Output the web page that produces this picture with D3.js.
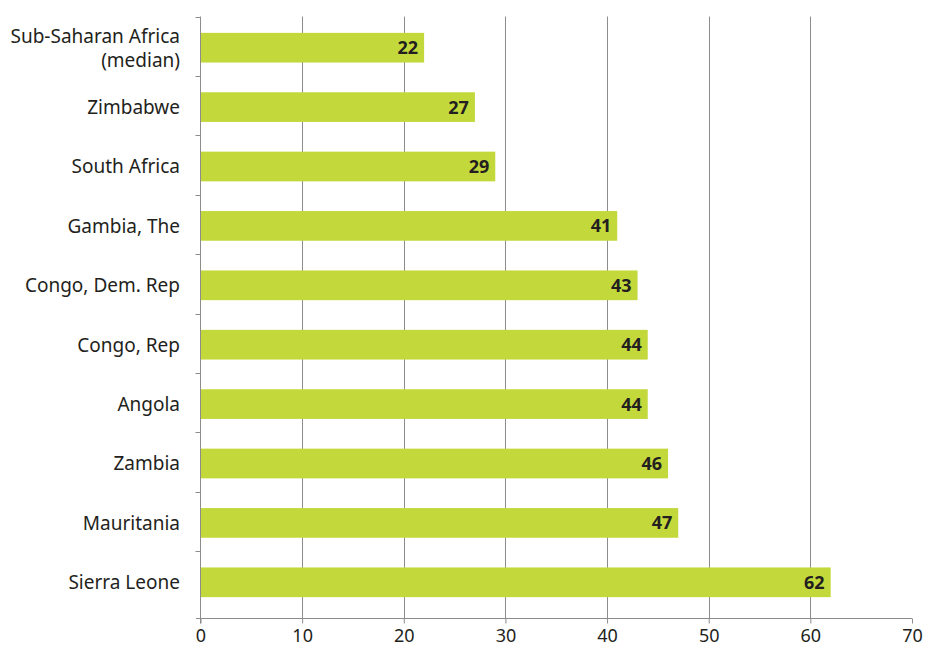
<!DOCTYPE html>
<html>
<head>
<meta charset="utf-8">
<script src="https://cdn.jsdelivr.net/npm/d3@7"></script>
<style>
  body { margin: 0; background: #fff; }
  svg { display: block; font-family: "Noto Sans", "Open Sans", sans-serif; }
</style>
</head>
<body>
<svg id="chart" width="928" height="648"></svg>
<script>
const categories = ["Sub-Saharan Africa|(median)", "Zimbabwe", "South Africa", "Gambia, The",
    "Congo, Dem. Rep", "Congo, Rep", "Angola", "Zambia", "Mauritania", "Sierra Leone"];
const values = [22, 27, 29, 41, 43, 44, 44, 46, 47, 62];
const xTicks = [0, 10, 20, 30, 40, 50, 60, 70];

const plotTop = 16.5, plotBottom = 610.5, axisY = 618.5;
const left = 200.5;

const svg = d3.select("#chart");

const x = d3.scaleLinear().domain([0, 70]).range([left, 912]);
const y = d3.scaleBand().domain(categories).range([plotTop + 1.5, plotBottom + 1.5]).paddingInner(0.5).paddingOuter(0.25);

// gridlines
svg.append("g")
    .selectAll("line")
    .data(xTicks.filter(d => d > 0 && d < 70))
    .join("line")
    .attr("x1", d => Math.round(x(d)) + 0.5)
    .attr("x2", d => Math.round(x(d)) + 0.5)
    .attr("y1", plotTop)
    .attr("y2", axisY)
    .attr("stroke", "#8c8c8c")
    .attr("stroke-width", 1);

// bars
svg.append("g")
    .selectAll("rect")
    .data(values)
    .join("rect")
    .attr("x", x(0))
    .attr("y", (d, i) => y(categories[i]))
    .attr("width", d => x(d) - x(0))
    .attr("height", y.bandwidth())
    .attr("fill", "#c3d93b");

// value labels
svg.append("g")
    .selectAll("text")
    .data(values)
    .join("text")
    .attr("x", d => x(d) - 6)
    .attr("y", (d, i) => y(categories[i]) + y.bandwidth() / 2)
    .attr("dy", "0.36em")
    .attr("text-anchor", "end")
    .attr("font-size", 18)
    .attr("font-weight", "bold")
    .attr("fill", "#231f20")
    .text(d => d);

// x axis
const xAxis = svg.append("g")
    .attr("transform", "translate(0," + axisY + ")")
    .call(d3.axisBottom(x).tickValues(xTicks).tickSize(5).tickSizeOuter(0).tickPadding(6));
xAxis.select(".domain").attr("stroke", "#8c8c8c").attr("d", "M196,0H" + x(70));
xAxis.selectAll(".tick line").attr("stroke", "#8c8c8c");
xAxis.selectAll(".tick text").attr("font-size", 18).attr("fill", "#231f20").attr("font-family", "Noto Sans, sans-serif");

// y axis
const bounds = d3.range(categories.length).map(i => plotTop + i * (plotBottom - plotTop) / categories.length);
svg.append("line")
    .attr("x1", left).attr("x2", left)
    .attr("y1", plotTop).attr("y2", axisY + 5)
    .attr("stroke", "#8c8c8c");
svg.append("g")
    .selectAll("line")
    .data(bounds)
    .join("line")
    .attr("x1", left - 5).attr("x2", left)
    .attr("y1", d => Math.round(d) + 0.5).attr("y2", d => Math.round(d) + 0.5)
    .attr("stroke", "#8c8c8c");

// category labels
const labels = svg.append("g")
    .selectAll("text")
    .data(categories)
    .join("text")
    .attr("x", 180)
    .attr("y", d => y(d) + y.bandwidth() / 2)
    .attr("text-anchor", "end")
    .attr("font-size", 19)
    .attr("fill", "#231f20");
labels.each(function (d) {
    const parts = d.split("|");
    const t = d3.select(this);
    parts.forEach((p, i) => {
        t.append("tspan")
            .attr("x", 180)
            .attr("dy", i === 0 ? (0.36 - (parts.length - 1) * 0.63) + "em" : "1.26em")
            .text(p);
    });
});
</script>
</body>
</html>
